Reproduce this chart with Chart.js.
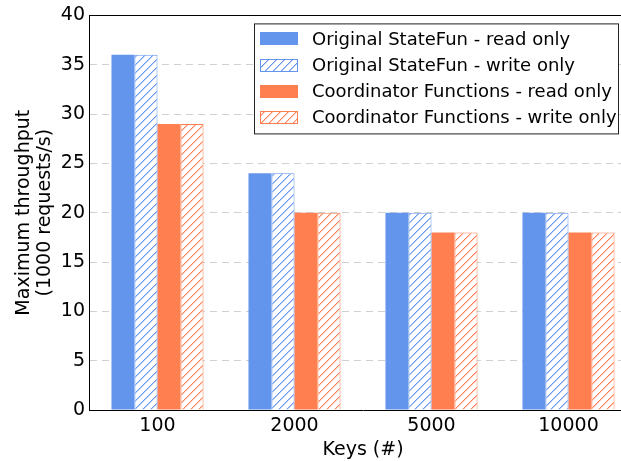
<!DOCTYPE html>
<html><head><meta charset="utf-8">
<script src="https://cdn.jsdelivr.net/npm/chart.js@4/dist/chart.umd.min.js"></script>
<style>
html,body{margin:0;padding:0;background:#fff;overflow:hidden}
#wrap{width:621px;height:461px;overflow:hidden;position:relative;background:#fff}
canvas{display:block}
</style></head>
<body><div id="wrap"><canvas id="c" width="640" height="461" style="width:640px;height:461px"></canvas></div>
<script>
const categories = ['100', '2000', '5000', '10000'];
const seriesLabels = [
  'Original StateFun - read only',
  'Original StateFun - write only',
  'Coordinator Functions - read only',
  'Coordinator Functions - write only'
];
const originalRead  = [36, 24, 20, 20];
const originalWrite = [36, 24, 20, 20];
const coordRead     = [29, 20, 18, 18];
const coordWrite    = [29, 20, 18, 18];
const yTicks = [0, 5, 10, 15, 20, 25, 30, 35, 40];

const BLUE = '#6495ED';
const CORAL = '#FF7F50';
const BLUE_SOFT = 'rgba(100,149,237,0.45)';
const CORAL_SOFT = 'rgba(255,127,80,0.45)';
const FONT = 'DejaVu Sans';

function hatch(color, soft) {
  const s = 8;
  const c = document.createElement('canvas');
  c.width = s; c.height = s;
  const x = c.getContext('2d');
  x.fillStyle = '#ffffff';
  x.fillRect(0, 0, s, s);
  for (let i = 0; i < s; i++) {
    const py = s - 1 - i;
    x.fillStyle = soft;
    x.fillRect((i + 1) % s, py, 1, 1);
    x.fillStyle = color;
    x.fillRect(i, py, 1, 1);
  }
  return document.getElementById('c').getContext('2d').createPattern(c, 'repeat');
}

const datasets = [
  {label: seriesLabels[0], data: originalRead, backgroundColor: BLUE, borderColor: BLUE, borderWidth: 0, hatched: false},
  {label: seriesLabels[1], data: originalWrite, backgroundColor: hatch(BLUE, BLUE_SOFT), borderColor: BLUE, borderWidth: 1, hatched: true},
  {label: seriesLabels[2], data: coordRead, backgroundColor: CORAL, borderColor: CORAL, borderWidth: 0, hatched: false},
  {label: seriesLabels[3], data: coordWrite, backgroundColor: hatch(CORAL, CORAL_SOFT), borderColor: CORAL, borderWidth: 1, hatched: true}
];

const framePlugin = {
  id: 'frame',
  afterDatasetsDraw(chart) {
    const {ctx, chartArea: a} = chart;
    ctx.save();
    ctx.strokeStyle = '#000'; ctx.lineWidth = 1;
    ctx.beginPath();
    ctx.moveTo(a.left, Math.round(a.top) + 0.5);
    ctx.lineTo(a.right, Math.round(a.top) + 0.5);
    ctx.moveTo(Math.round(a.right) + 0.5, a.top);
    ctx.lineTo(Math.round(a.right) + 0.5, a.bottom);
    ctx.stroke();
    ctx.restore();
  }
};

const legendPlugin = {
  id: 'boxLegend',
  afterDraw(chart) {
    const {ctx, chartArea: a} = chart;
    const x0 = a.left + 165, y0 = a.top + 8, w = 364, h = 110;
    ctx.save();
    ctx.fillStyle = '#fff';
    ctx.fillRect(x0, y0, w, h);
    ctx.strokeStyle = '#222'; ctx.lineWidth = 1;
    ctx.strokeRect(x0 + 0.5, y0 + 0.5, w, h);
    ctx.font = '18px "' + FONT + '"';
    ctx.textBaseline = 'middle';
    ctx.textAlign = 'left';
    chart.data.datasets.forEach((ds, i) => {
      const cy = y0 + 15.5 + i * 26.1;
      const px = x0 + 6, pw = 38, ph = 13;
      ctx.fillStyle = ds.backgroundColor;
      ctx.fillRect(px, Math.round(cy - ph / 2), pw, ph);
      if (ds.hatched) {
        ctx.strokeStyle = ds.borderColor;
        ctx.strokeRect(px + 0.5, Math.round(cy - ph / 2) + 0.5, pw - 1, ph - 1);
      }
      ctx.fillStyle = '#000';
      ctx.fillText(ds.label, x0 + 58, cy + 1);
    });
    ctx.restore();
  }
};

new Chart(document.getElementById('c'), {
  type: 'bar',
  data: {labels: categories, datasets},
  plugins: [framePlugin, legendPlugin],
  options: {
    responsive: false,
    animation: false,
    devicePixelRatio: 1,
    layout: {padding: {top: 15, right: 3, bottom: 0, left: 0}},
    datasets: {bar: {categoryPercentage: 0.672, barPercentage: 1.0}},
    plugins: {legend: {display: false}, tooltip: {enabled: false}, title: {display: false}},
    scales: {
      x: {
        grid: {display: false, drawTicks: false},
        border: {display: true, color: '#000', width: 1},
        ticks: {color: '#000', font: {family: FONT, size: 19}, padding: 5},
        title: {display: true, text: 'Keys (#)', color: '#000', font: {family: FONT, size: 19, lineHeight: 1.1}, padding: {top: 0, bottom: 0}},
        afterFit(s) { s.height = 51; }
      },
      y: {
        min: 0, max: 40,
        afterBuildTicks(s) { s.ticks = yTicks.map(v => ({value: v})); },
        grid: {color: '#d0d0d0', lineWidth: 1, drawTicks: false},
        border: {display: true, color: '#000', width: 1, dash: [7, 5]},
        ticks: {color: '#000', font: {family: FONT, size: 19}, padding: 4},
        title: {display: true, text: ['Maximum throughput', '(1000 requests/s)'], color: '#000', font: {family: FONT, size: 19, lineHeight: 1.1}, padding: {top: 14, bottom: 0}},
        afterFit(s) { s.width = 89; }
      }
    }
  }
});
</script>
</body></html>
